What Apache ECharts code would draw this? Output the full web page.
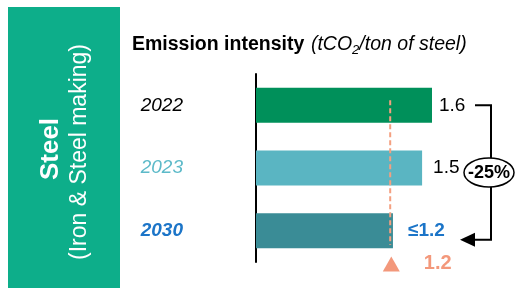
<!DOCTYPE html>
<html><head><meta charset="utf-8">
<script src="https://cdn.jsdelivr.net/npm/echarts@6/dist/echarts.min.js"></script>
<style>html,body{margin:0;padding:0;background:#fff}#c{width:517px;height:288px}</style>
</head><body><div id="c"></div>
<script>
var categories = ['2022', '2023', '2030'];
var values = [1.6, 1.51, 1.245];
var valueLabels = ['1.6', '1.5', '≤1.2'];
var targetValue = 1.22;
var targetLabel = '1.2';
var changeLabel = '-25%';

var FONT = 'Liberation Sans, Arial, sans-serif';
var barColors = ['#00905A', '#5AB5C2', '#3A8C96'];
var labelStyles = [
  {color: '#000000', fontStyle: 'italic', fontWeight: 'normal'},
  {color: '#5DBAC9', fontStyle: 'italic', fontWeight: 'normal'},
  {color: '#1C75C8', fontStyle: 'italic', fontWeight: 'bold'}
];
var valueLabelStyles = [
  {color: '#000', fontWeight: 'normal', distance: 7},
  {color: '#000', fontWeight: 'normal', distance: 11},
  {color: '#1C75C8', fontWeight: 'bold', distance: 15}
];

var chart = echarts.init(document.getElementById('c'), null, {renderer: 'canvas'});
var rich = {};
categories.forEach(function (c, i) {
  rich['c' + i] = Object.assign({fontSize: 19, fontFamily: FONT}, labelStyles[i]);
});

var option = {
  animation: false,
  backgroundColor: '#fff',
  grid: {left: 256, top: 74, height: 188, width: 220, containLabel: false},
  xAxis: {type: 'value', min: 0, max: 2, show: false},
  yAxis: [{
    type: 'category', data: categories, inverse: true,
    axisLine: {show: true, lineStyle: {color: '#000', width: 2}},
    axisTick: {show: false},
    axisLabel: {
      margin: 73, align: 'right',
      formatter: function (v) { return '{c' + categories.indexOf(v) + '|' + v + '}'; },
      rich: rich
    },
    splitLine: {show: false}
  }, {
    type: 'value', min: 0, max: 3, inverse: true, show: false
  }],
  series: [{
    type: 'bar', barWidth: 35,
    data: values.map(function (v, i) {
      return {
        value: v, itemStyle: {color: barColors[i]},
        label: {
          show: true, position: 'right', distance: valueLabelStyles[i].distance,
          formatter: valueLabels[i], fontSize: 19, fontFamily: FONT,
          color: valueLabelStyles[i].color, fontWeight: valueLabelStyles[i].fontWeight
        }
      };
    }),
    z: 2
  }, {
    type: 'line', yAxisIndex: 1, symbol: 'none', z: 3,
    data: [[targetValue, 0.42], [targetValue, 2.73]],
    lineStyle: {color: '#F4A080', width: 2, type: [5, 3]}
  }, {
    type: 'scatter', yAxisIndex: 1, clip: false, z: 4,
    symbol: 'triangle', symbolSize: [17, 15],
    itemStyle: {color: '#F07E5A'},
    data: [[targetValue + 0.01, 3.03]],
    label: {
      show: true, position: 'right', distance: 24, formatter: targetLabel,
      fontSize: 20, fontWeight: 'bold', color: '#F07E5A', fontFamily: FONT
    }
  }],
  graphic: [
    {type: 'rect', shape: {x: 8, y: 7, width: 112, height: 281}, style: {fill: '#0DAE8A'}, z: 0},
    {type: 'text', x: 51, y: 149, rotation: Math.PI / 2,
      style: {text: 'Steel', fill: '#fff', font: 'bold 26px ' + FONT, textAlign: 'center', textVerticalAlign: 'middle'}},
    {type: 'text', x: 80, y: 152, rotation: Math.PI / 2,
      style: {text: '(Iron & Steel making)', fill: '#fff', font: '23px ' + FONT, textAlign: 'center', textVerticalAlign: 'middle'}},
    {type: 'text', x: 132, y: 45,
      style: {
        text: '{b|Emission intensity}  {i|(tCO}{s|2}{i|/ton of steel)}',
        textVerticalAlign: 'middle',
        rich: {
          b: {fill: '#000', fontSize: 19.5, fontWeight: 'bold', fontFamily: FONT},
          i: {fill: '#000', fontSize: 19.5, fontStyle: 'italic', fontFamily: FONT},
          s: {fill: '#000', fontSize: 13, fontStyle: 'italic', fontFamily: FONT, padding: [10, 0, 0, 0]}
        }
      }}
  ]
};
chart.setOption(option);

// bracket annotation tied to category positions
var yTop = chart.convertToPixel({yAxisIndex: 0}, categories[0]);
var yBot = chart.convertToPixel({yAxisIndex: 0}, categories[2]) + 9;
var xV = 491;
chart.setOption({graphic: option.graphic.concat([
  {type: 'polyline', shape: {points: [[475, yTop], [xV, yTop], [xV, yBot], [472, yBot]]},
    style: {stroke: '#000', lineWidth: 2, fill: null}, z: 5},
  {type: 'polygon', shape: {points: [[460, yBot], [475, yBot - 7], [475, yBot + 7]]},
    style: {fill: '#000'}, z: 5},
  {type: 'ellipse', shape: {cx: 489, cy: (yTop + yBot) / 2 + 0, rx: 25, ry: 14.5},
    style: {fill: '#fff', stroke: '#000', lineWidth: 1.5}, z: 6},
  {type: 'text', x: 489, y: (yTop + yBot) / 2 + 1, z: 7,
    style: {text: changeLabel, font: 'bold 18px ' + FONT, fill: '#000', textAlign: 'center', textVerticalAlign: 'middle'}}
])}, {replaceMerge: ['graphic']});
</script></body></html>
